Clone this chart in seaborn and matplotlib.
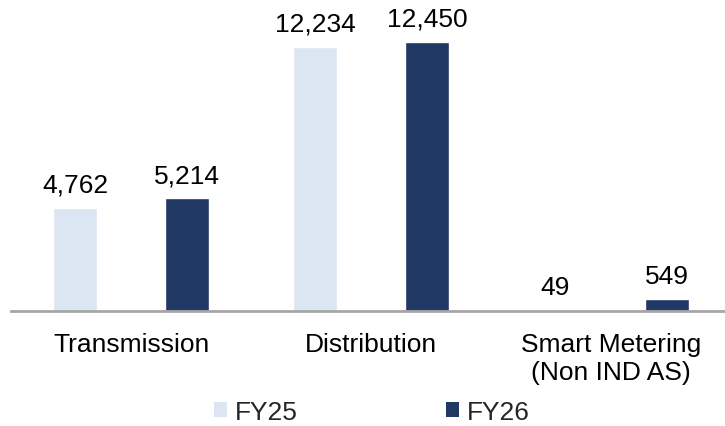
import numpy as np
import pandas as pd
import matplotlib
matplotlib.use("Agg")
import matplotlib.pyplot as plt
import seaborn as sns
from matplotlib.patches import Patch

# data
categories = ["Transmission", "Distribution", "Smart Metering\n(Non IND AS)"]
fy25 = [4762, 12234, 49]
fy26 = [5214, 12450, 549]
series = ["FY25", "FY26"]
colors = ["#DCE6F2", "#203864"]

df = pd.DataFrame({
    "category": categories * 2,
    "value": fy25 + fy26,
    "year": [series[0]] * 3 + [series[1]] * 3,
})

sns.set_style("white")
plt.rcParams["font.family"] = ["Liberation Sans", "DejaVu Sans"]

fig = plt.figure(figsize=(7.25, 4.27), dpi=100)
ax = fig.add_axes([11 / 725, 115 / 427, 1 - 11 / 725, 312 / 427])

sns.barplot(data=df, x="category", y="value", hue="year", palette=colors,
            width=0.933, gap=0.607, ax=ax, legend=False, saturation=1)

for cont in ax.containers:
    ax.bar_label(cont, labels=[f"{v:,.0f}" for v in cont.datavalues],
                 padding=8, fontsize=19, color="#000000")

ax.set_xlim(-0.5, 2.475)
ax.set_ylim(0, 14440)
ax.set_xlabel("")
ax.set_ylabel("")
ax.set_yticks([])
ax.tick_params(axis="x", length=0, labelsize=19, pad=15, colors="#000000")
for s in ["top", "right", "left"]:
    ax.spines[s].set_visible(False)
ax.spines["bottom"].set_color("#A6A6A6")
ax.spines["bottom"].set_linewidth(2)

handles = [Patch(facecolor=c, edgecolor="none", label=l) for c, l in zip(colors, series)]
fig.legend(handles=handles, loc="center", bbox_to_anchor=(372 / 725, 1 - 413 / 427),
           ncol=2, frameon=False, fontsize=19, handlelength=0.5, handleheight=0.5,
           handletextpad=0.3, columnspacing=5.6, borderaxespad=0)

fig.savefig("out.png", dpi=100)
